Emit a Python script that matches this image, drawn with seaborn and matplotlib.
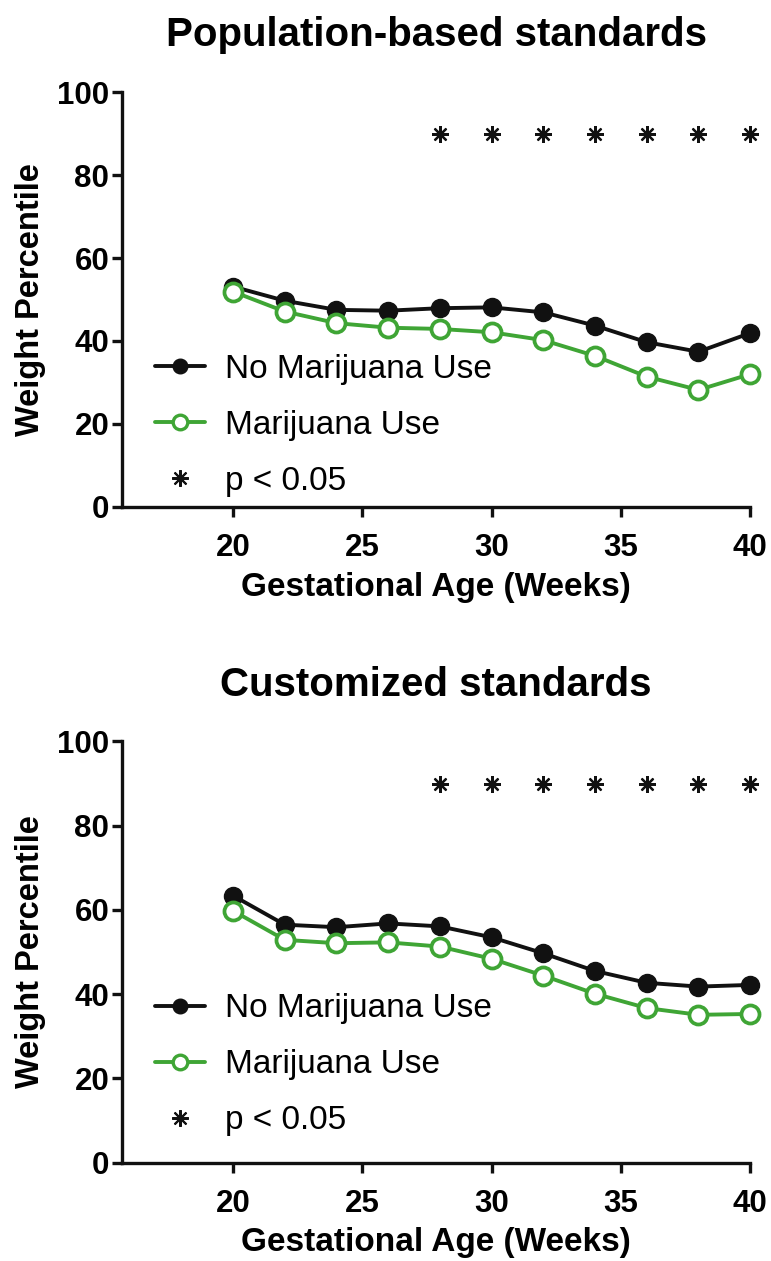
import numpy as np
import pandas as pd
import matplotlib
matplotlib.use("Agg")
import matplotlib.pyplot as plt
from matplotlib.lines import Line2D
import seaborn as sns

# Datos
semanas = [20, 22, 24, 26, 28, 30, 32, 34, 36, 38, 40]

pob_no_uso = [53.1, 49.7, 47.5, 47.3, 47.9, 48.1, 46.9, 43.7, 39.7, 37.4, 41.9]
pob_uso = [51.9, 47.1, 44.3, 43.2, 42.9, 42.1, 40.2, 36.4, 31.4, 28.2, 32.0]

cust_no_uso = [63.4, 56.5, 55.9, 56.8, 56.1, 53.5, 49.7, 45.5, 42.7, 41.8, 42.2]
cust_uso = [59.8, 52.9, 52.1, 52.3, 51.3, 48.4, 44.4, 40.1, 36.7, 35.1, 35.3]

semanas_sig = [28, 30, 32, 34, 36, 38, 40]
nivel_sig = [90] * len(semanas_sig)

titulos = ["Population-based standards", "Customized standards"]
etiquetas = ["No Marijuana Use", "Marijuana Use", "p < 0.05"]

# Estilo
sns.set_style("ticks")
plt.rcParams['font.family'] = ['Liberation Sans', 'DejaVu Sans']
plt.rcParams['text.color'] = 'black'
plt.rcParams['axes.labelcolor'] = 'black'
plt.rcParams['xtick.color'] = 'black'
plt.rcParams['ytick.color'] = 'black'

VERDE = '#3fa535'
NEGRO = '#111111'
LW = 2.8

fig = plt.figure(figsize=(7.71, 12.61), dpi=100)
posiciones = [[0.158, 0.598, 0.815, 0.329],
              [0.158, 0.078, 0.815, 0.334]]
centros_leyenda = [0.196, 0.232]

series = [(pob_no_uso, pob_uso), (cust_no_uso, cust_uso)]

for pos, titulo, (no_uso, uso), cy in zip(posiciones, titulos, series, centros_leyenda):
    ax = fig.add_axes(pos)
    df = pd.DataFrame({'semana': semanas, 'no_uso': no_uso, 'uso': uso})

    sns.lineplot(data=df, x='semana', y='no_uso', ax=ax, color=NEGRO, linewidth=LW,
                 marker='o', markersize=13, markerfacecolor=NEGRO,
                 markeredgecolor=NEGRO, markeredgewidth=1, clip_on=False, zorder=3)
    sns.lineplot(data=df, x='semana', y='uso', ax=ax, color=VERDE, linewidth=LW,
                 marker='o', markersize=13, markerfacecolor='white',
                 markeredgecolor=VERDE, markeredgewidth=2.7, clip_on=False, zorder=4)

    # asteriscos de significancia
    ax.plot(semanas_sig, nivel_sig, ls='none', marker=(8, 2, 0), ms=12,
            mew=1.6, color=NEGRO, clip_on=False)

    ax.set_xlim(15.7, 40)
    ax.set_ylim(0, 100)
    ax.set_xticks([20, 25, 30, 35, 40])
    ax.set_yticks([0, 20, 40, 60, 80, 100])
    sns.despine(ax=ax)
    for s in ['left', 'bottom']:
        ax.spines[s].set_linewidth(2.4)
        ax.spines[s].set_color(NEGRO)
    ax.tick_params(axis='both', width=2.4, length=7, color=NEGRO,
                   labelsize=22.5, pad=2)
    ax.tick_params(axis='x', pad=12)
    for lab in ax.get_xticklabels() + ax.get_yticklabels():
        lab.set_fontweight('bold')

    ax.set_xlabel('Gestational Age (Weeks)', fontsize=24, fontweight='bold', labelpad=6)
    ax.set_ylabel('Weight Percentile', fontsize=23.5, fontweight='bold', labelpad=8)
    ax.set_title(titulo, fontsize=29, fontweight='bold', pad=33)

    handles = [
        Line2D([], [], color=NEGRO, lw=LW, marker='o', ms=10.5, mfc=NEGRO, mec=NEGRO),
        Line2D([], [], color=VERDE, lw=LW, marker='o', ms=10.5, mfc='white', mec=VERDE, mew=2.4),
        Line2D([], [], ls='none', marker=(8, 2, 0), ms=12, mew=1.5, color=NEGRO),
    ]
    ax.legend(handles, etiquetas, loc='center left', bbox_to_anchor=(0.053, cy),
              frameon=False, fontsize=24, handlelength=1.5, handletextpad=0.6,
              labelspacing=0.75, borderpad=0, borderaxespad=0)

fig.savefig('out.png', dpi=100)
